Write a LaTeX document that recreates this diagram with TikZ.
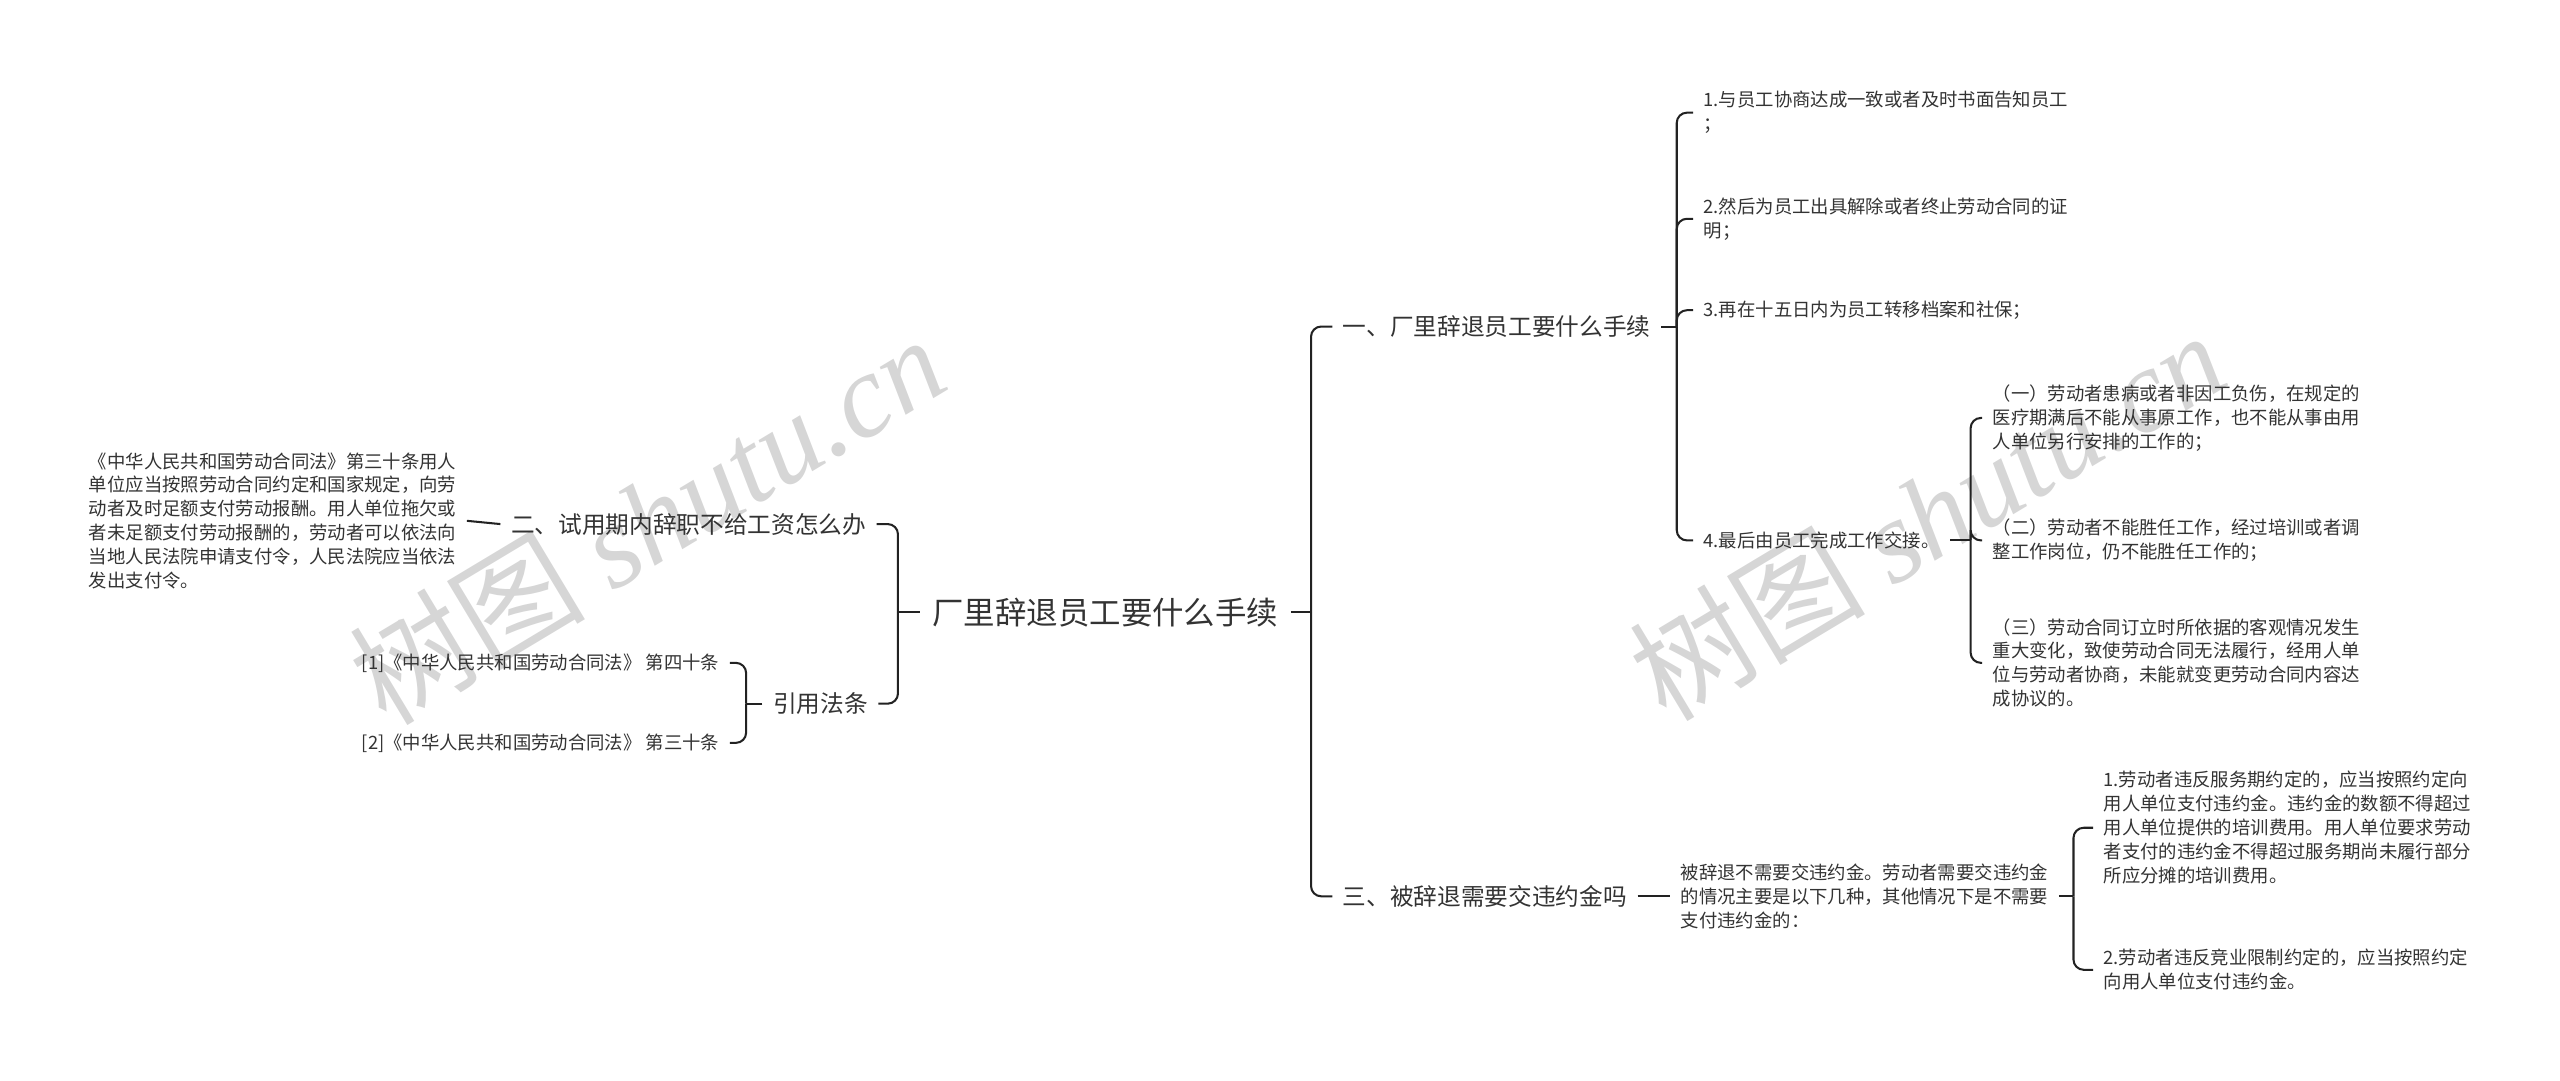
\documentclass[tikz,border=0pt]{standalone}
\usepackage{fontspec}
\setmainfont{Noto Sans CJK SC}
\newfontfamily\wmlatin{Liberation Serif}
\definecolor{txt}{HTML}{333333}
\definecolor{ln}{HTML}{222222}
\definecolor{wmc}{HTML}{D6D6D6}
\begin{document}
\begin{tikzpicture}[x=0.8pt,y=-0.8pt,
  leaf/.style={font=\fontsize{9}{11.7}\selectfont, text=txt, align=left, inner xsep=5pt, inner ysep=2pt},
  lvl/.style={font=\fontsize{11.6}{14}\selectfont, text=txt, inner xsep=5pt, inner ysep=2pt},
  rootn/.style={font=\fontsize{15.4}{18}\selectfont, text=txt, inner xsep=6pt, inner ysep=2pt},
  conn/.style={draw=ln, line width=1pt, rounded corners=5pt},
  wm/.style={text=wmc, font=\fontsize{58}{62}\selectfont, inner sep=0pt}]
\useasboundingbox (0,0) rectangle (1568,662);
% watermarks
\node[wm, rotate=31] (wm1) at (396,318) {树图 {\wmlatin\itshape shutu.cn}};
\node[wm, rotate=31] (wm2) at (1180,315) {树图 {\wmlatin\itshape shutu.cn}};
% root
\node[rootn] (root) at (677,375) {厂里辞退员工要什么手续};
\coordinate (rb) at (803,375);
\coordinate (lb) at (550,375);
% right level 1
\node[lvl, anchor=west] (n1) at (816,200) {一、厂里辞退员工要什么手续};
\node[lvl, anchor=west] (n3) at (816,549) {三、被辞退需要交违约金吗};
% items under n1
\coordinate (s1) at (1027,200);
\node[leaf, anchor=west] (a1) at (1037,69) {1.与员工协商达成一致或者及时书面告知员工\\；};
\node[leaf, anchor=west] (a2) at (1037,134) {2.然后为员工出具解除或者终止劳动合同的证\\明；};
\node[leaf, anchor=west] (a3) at (1037,190) {3.再在十五日内为员工转移档案和社保；};
\node[leaf, anchor=west] (a4) at (1037,331) {4.最后由员工完成工作交接。};
\coordinate (s4) at (1207,331);
\node[leaf, anchor=west] (b1) at (1214,256) {（一）劳动者患病或者非因工负伤，在规定的\\医疗期满后不能从事原工作，也不能从事由用\\人单位另行安排的工作的；};
\node[leaf, anchor=west] (b2) at (1214,331) {（二）劳动者不能胜任工作，经过培训或者调\\整工作岗位，仍不能胜任工作的；};
\node[leaf, anchor=west] (b3) at (1214,406) {（三）劳动合同订立时所依据的客观情况发生\\重大变化，致使劳动合同无法履行，经用人单\\位与劳动者协商，未能就变更劳动合同内容达\\成协议的。};
% n3 branch
\node[leaf, anchor=west] (c) at (1023,549) {被辞退不需要交违约金。劳动者需要交违约金\\的情况主要是以下几种，其他情况下是不需要\\支付违约金的：};
\coordinate (s3) at (1270,549);
\node[leaf, anchor=west] (d1) at (1282,507) {1.劳动者违反服务期约定的，应当按照约定向\\用人单位支付违约金。违约金的数额不得超过\\用人单位提供的培训费用。用人单位要求劳动\\者支付的违约金不得超过服务期尚未履行部分\\所应分摊的培训费用。};
\node[leaf, anchor=west] (d2) at (1282,594) {2.劳动者违反竞业限制约定的，应当按照约定\\向用人单位支付违约金。};
% left side
\node[lvl, anchor=east] (m1) at (537,321) {二、试用期内辞职不给工资怎么办};
\node[lvl, anchor=east] (m2) at (538,431) {引用法条};
\node[leaf, anchor=east] (L) at (286,319) {《中华人民共和国劳动合同法》第三十条用人\\单位应当按照劳动合同约定和国家规定，向劳\\动者及时足额支付劳动报酬。用人单位拖欠或\\者未足额支付劳动报酬的，劳动者可以依法向\\当地人民法院申请支付令，人民法院应当依法\\发出支付令。};
\coordinate (s2) at (457,431);
\node[leaf, anchor=east] (r1) at (447,406) {[1]《中华人民共和国劳动合同法》 第四十条};
\node[leaf, anchor=east] (r2) at (447,455) {[2]《中华人民共和国劳动合同法》 第三十条};
% connectors right
\draw[conn] (root.east) -- (rb);
\draw[conn] (rb) |- (n1.west);
\draw[conn] (rb) |- (n3.west);
\draw[conn] (n1.east) -- (s1);
\foreach \k in {a1,a2,a3,a4} \draw[conn] (s1) |- (\k.west);
\draw[conn] (a4.east) -- (s4);
\foreach \k in {b1,b2,b3} \draw[conn] (s4) |- (\k.west);
\draw[conn] (n3.east) -- (c.west);
\draw[conn] (c.east) -- (s3);
\foreach \k in {d1,d2} \draw[conn] (s3) |- (\k.west);
% connectors left
\draw[conn] (root.west) -- (lb);
\draw[conn] (lb) |- (m1.east);
\draw[conn] (lb) |- (m2.east);
\draw[conn] (m1.west) -- (L.east);
\draw[conn] (m2.west) -- (s2);
\foreach \k in {r1,r2} \draw[conn] (s2) |- (\k.east);
\end{tikzpicture}
\end{document}
